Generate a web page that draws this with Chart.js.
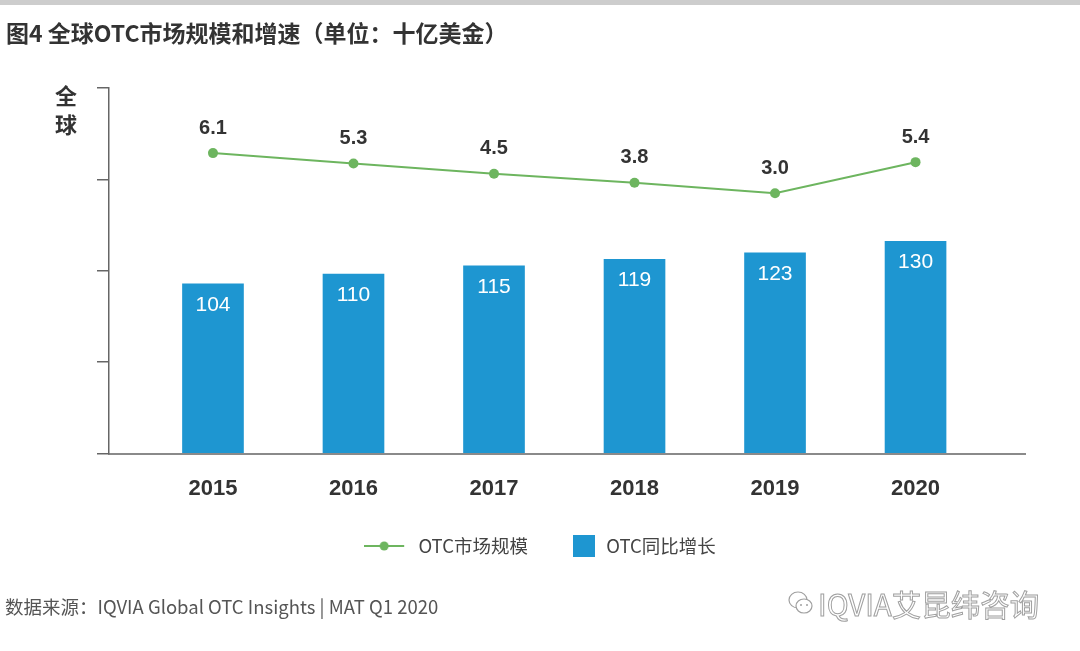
<!DOCTYPE html>
<html>
<head>
<meta charset="utf-8">
<script src="https://cdn.jsdelivr.net/npm/chart.js@4.4.1/dist/chart.umd.min.js"></script>
<style>
  html, body { margin: 0; padding: 0; background: #fff; }
  body { width: 1080px; height: 651px; position: relative; overflow: hidden; font-family: "Noto Sans CJK SC", "Noto Sans", sans-serif; }
  #topbar { position: absolute; left: 0; top: 0; width: 1080px; height: 5px; background: #cdcdcd; }
  #title { position: absolute; left: 6px; top: 15px; font-size: 23px; font-weight: bold; color: #333; }
  #ylab { position: absolute; left: 55px; top: 80px; font-size: 22px; font-weight: bold; color: #333; line-height: 29px; width: 24px; }
  #source { position: absolute; left: 5px; top: 593px; font-size: 18.5px; color: #555; }
  #mark { position: absolute; left: 788px; top: 582px; font-size: 29.5px; color: transparent; -webkit-text-stroke: 1px #a0a0a0; display: flex; align-items: center; }
  #mark svg { margin-right: 4px; }
  #wrap { position: absolute; left: 0; top: 0; width: 1080px; height: 651px; }
</style>
</head>
<body>
<div id="topbar"></div>
<div id="wrap"><canvas id="chart" width="1080" height="651"></canvas></div>
<div id="title">图4 全球OTC市场规模和增速（单位：十亿美金）</div>
<div id="ylab">全<br>球</div>
<div id="source">数据来源：IQVIA Global OTC Insights | MAT Q1 2020</div>
<div id="mark"><svg width="26" height="28" viewBox="0 0 26 28"><ellipse cx="10" cy="11" rx="9" ry="8" fill="none" stroke="#a0a0a0" stroke-width="1.2"/><ellipse cx="16" cy="17" rx="8" ry="7" fill="#fff" stroke="#a0a0a0" stroke-width="1.2"/><circle cx="13" cy="16" r="1" fill="#a0a0a0"/><circle cx="19" cy="16" r="1" fill="#a0a0a0"/></svg>IQVIA艾昆纬咨询</div>
<script>
// values
const years = ['2015', '2016', '2017', '2018', '2019', '2020'];
const marketSize = [104, 110, 115, 119, 123, 130];
const growth = [6.1, 5.3, 4.5, 3.8, 3.0, 5.4];
const seriesNames = ['OTC市场规模', 'OTC同比增长'];

const barColor = '#1e96d1';
const lineColor = '#6db55f';
const legendFont = 18.5;
const legendGap = 24;

// legend markers (45px wide boxes)
function makeLineMarker() {
    const c = document.createElement('canvas');
    c.width = 45; c.height = 12;
    const g = c.getContext('2d');
    g.strokeStyle = lineColor; g.lineWidth = 2;
    g.beginPath(); g.moveTo(0, 6); g.lineTo(40, 6); g.stroke();
    g.fillStyle = lineColor;
    g.beginPath(); g.arc(20, 6, 4.5, 0, Math.PI * 2); g.fill();
    return c;
}
function makeBoxMarker() {
    const c = document.createElement('canvas');
    c.width = 45; c.height = 22;
    const g = c.getContext('2d');
    g.fillStyle = barColor;
    g.fillRect(21, 0, 22, 22);
    return c;
}
const lineMarker = makeLineMarker();
const boxMarker = makeBoxMarker();

const valueLabels = {
    id: 'valueLabels',
    afterDatasetsDraw(chart) {
        const ctx = chart.ctx;
        ctx.save();
        ctx.textAlign = 'center';
        ctx.textBaseline = 'middle';
        chart.data.datasets.forEach((ds, di) => {
            const meta = chart.getDatasetMeta(di);
            meta.data.forEach((el, i) => {
                if (ds.type === 'bar') {
                    ctx.font = '21px "Liberation Sans", Arial, sans-serif';
                    ctx.fillStyle = '#fff';
                    ctx.fillText(String(ds.data[i].y), el.x, el.y + 21);
                } else {
                    ctx.font = 'bold 20px "Liberation Sans", Arial, sans-serif';
                    ctx.fillStyle = '#333';
                    ctx.fillText(ds.data[i].y.toFixed(1), el.x, el.y - 25);
                }
            });
        });
        ctx.restore();
    }
};

// centre the legend on the whole canvas and pin its row
const legendPlacer = {
    id: 'legendPlacer',
    afterLayout(chart) {
        const lg = chart.legend;
        const h = lg.height;
        lg.left = 0; lg.right = chart.width; lg.width = chart.width;
        lg.top = 546 - legendFont / 2 - legendGap;
        lg.bottom = lg.top + h;
    }
};

new Chart(document.getElementById('chart'), {
    data: {
        datasets: [
            {
                type: 'line',
                label: seriesNames[0],
                data: growth.map((v, i) => ({ x: i, y: v })),
                yAxisID: 'y1',
                borderColor: lineColor,
                backgroundColor: lineColor,
                borderWidth: 2,
                pointRadius: 5,
                pointBorderWidth: 0,
                order: 0
            },
            {
                type: 'bar',
                label: seriesNames[1],
                data: marketSize.map((v, i) => ({ x: i, y: v })),
                yAxisID: 'y',
                backgroundColor: barColor,
                barThickness: 61,
                order: 1
            }
        ]
    },
    options: {
        responsive: false,
        animation: false,
        layout: { padding: { left: 97, right: 55, top: 88, bottom: 95 } },
        scales: {
            x: {
                type: 'linear',
                offset: false,
                min: -0.74,
                max: 5.779,
                afterBuildTicks: (scale) => { scale.ticks = years.map((y, i) => ({ value: i })); },
                afterFit: (scale) => { scale.height = 50; },
                grid: { display: false },
                border: { color: '#8a8a8a', width: 2 },
                ticks: {
                    callback: (v) => years[v],
                    color: '#333',
                    padding: 14,
                    maxRotation: 0,
                    font: { family: '"Liberation Sans", Arial, sans-serif', size: 22, weight: 'bold' }
                }
            },
            y: {
                min: 0,
                max: 224,
                afterBuildTicks: (scale) => { scale.ticks = [0, 56, 112, 168, 224].map(v => ({ value: v })); },
                grid: { drawOnChartArea: false, drawTicks: true, tickLength: 12, color: '#666', lineWidth: 1.5 },
                border: { color: '#666', width: 1.5 },
                ticks: { display: false }
            },
            y1: {
                display: false,
                min: -17.15,
                max: 11.14
            }
        },
        plugins: {
            tooltip: { enabled: false },
            legend: {
                position: 'bottom',
                labels: {
                    usePointStyle: true,
                    pointStyleWidth: 45,
                    padding: legendGap,
                    color: '#444',
                    font: { family: '"Noto Sans CJK SC", sans-serif', size: legendFont },
                    generateLabels: (chart) => chart.data.datasets.map((ds, i) => ({
                        text: ds.label,
                        pointStyle: ds.type === 'line' ? lineMarker : boxMarker,
                        fillStyle: ds.backgroundColor,
                        strokeStyle: ds.backgroundColor,
                        lineWidth: 0,
                        fontColor: '#444',
                        hidden: false,
                        datasetIndex: i
                    }))
                }
            }
        }
    },
    plugins: [valueLabels, legendPlacer]
});
</script>
</body>
</html>
